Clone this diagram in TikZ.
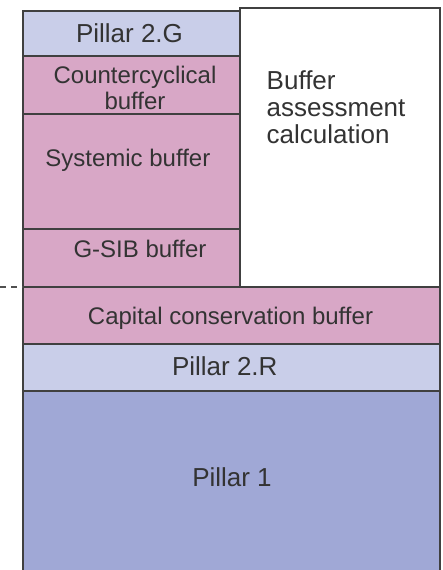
\documentclass[tikz,border=0pt]{standalone}
\usepackage{fontspec}
\setmainfont{Liberation Sans}
\definecolor{edge}{RGB}{64,64,64}
\definecolor{ink}{RGB}{51,51,51}
\definecolor{pillartwo}{RGB}{201,206,233}
\definecolor{bufpink}{RGB}{216,167,198}
\definecolor{pillarone}{RGB}{160,168,214}
\definecolor{dashgray}{RGB}{80,80,80}
\begin{document}
\begin{tikzpicture}[x=1pt,y=-1pt,
  box/.style={draw=edge, line width=1.6pt, inner sep=0pt, outer sep=0pt, anchor=north west},
  lbl/.style={text=ink, inner sep=0pt, font=\fontsize{24}{27.6}\selectfont, anchor=base, align=center},
  biglbl/.style={lbl, font=\fontsize{26}{27}\selectfont}]
\useasboundingbox (0,0) rectangle (442,570);
% left column
\node[box, fill=pillartwo, minimum width=217pt, minimum height=45.3pt] (p2g) at (23,10.7) {};
\node[box, fill=bufpink, minimum width=217pt, minimum height=58pt] (ccb) at (23,56) {};
\node[box, fill=bufpink, minimum width=217pt, minimum height=115pt] (sys) at (23,114) {};
\node[box, fill=bufpink, minimum width=217pt, minimum height=58pt] (gsib) at (23,229) {};
% right box
\node[box, fill=white, minimum width=200pt, minimum height=279pt] (bac) at (240,8) {};
% full width rows
\node[box, fill=bufpink, minimum width=417pt, minimum height=57pt] (ccons) at (23,287) {};
\node[box, fill=pillartwo, minimum width=417pt, minimum height=46.7pt] (p2r) at (23,344) {};
\node[box, fill=pillarone, minimum width=417pt, minimum height=185pt] (p1) at (23,390.7) {};
% dashed marker
\coordinate (dl) at (0,287);
\draw[dashgray, line width=1.2pt, dash pattern=on 6pt off 5pt] (dl) -- (ccons.north west);
% labels
\node[biglbl] (tp2g) at (129.5,42.5) {Pillar 2.G};
\node[lbl, font=\fontsize{24}{26}\selectfont] (tccb) at (135,109.3) {Countercyclical\\buffer};
\node[lbl] (tsys) at (127.8,166) {Systemic buffer};
\node[lbl] (tgsib) at (140,257.7) {G-SIB buffer};
\node[biglbl, anchor=base west, align=left] (tbac) at (266.5,143.5) {Buffer\\assessment\\calculation};
\node[lbl] (tccons) at (230.5,324) {Capital conservation buffer};
\node[biglbl] (tp2r) at (224.8,375.3) {Pillar 2.R};
\node[biglbl] (tp1) at (232,486) {Pillar 1};
\end{tikzpicture}
\end{document}
